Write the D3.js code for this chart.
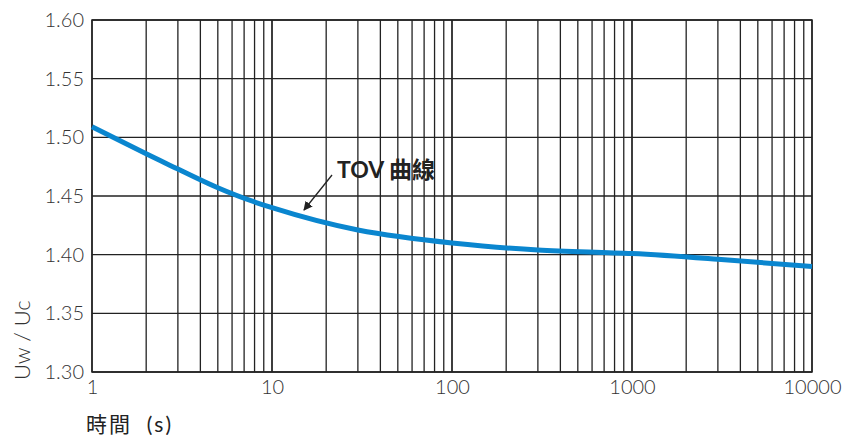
<!DOCTYPE html>
<html>
<head>
<meta charset="utf-8">
<script src="https://cdn.jsdelivr.net/npm/d3@7"></script>
<style>
  body { margin: 0; background: #fff; }
  text { font-family: Lato, "Noto Sans CJK TC", sans-serif; }
</style>
</head>
<body>
<div id="chart"></div>
<script>
// TOV curve
const times = [1, 2, 3, 5, 10, 30, 100, 300, 1000, 3000, 10000];
const ratios = [1.509, 1.486, 1.473, 1.457, 1.440, 1.421, 1.410, 1.404, 1.401, 1.396, 1.390];
const yTicks = [1.30, 1.35, 1.40, 1.45, 1.50, 1.55, 1.60];
const xTicks = [1, 10, 100, 1000, 10000];

const width = 842, height = 435;
const margin = { top: 20, right: 30, bottom: 63, left: 92 };
const w = width - margin.left - margin.right;
const h = height - margin.top - margin.bottom;

const svg = d3.select('#chart')
    .append('svg')
    .attr('width', width)
    .attr('height', height)
    .append('g')
    .attr('transform', `translate(${margin.left},${margin.top})`);

const xScale = d3.scaleLog().domain([1, 10000]).range([0, w]);
const yScale = d3.scaleLinear().domain([1.30, 1.60]).range([h, 0]);

// vertical grid: every 1..9 of each decade
const minor = [];
for (let d = 1; d < 10000; d *= 10) {
    for (let k = 1; k <= 10; k++) minor.push(d * k);
}
svg.selectAll('.vgrid')
    .data(minor)
    .enter()
    .append('line')
    .attr('class', 'vgrid')
    .attr('x1', d => xScale(d)).attr('x2', d => xScale(d))
    .attr('y1', 0).attr('y2', h)
    .attr('stroke', '#222')
    .attr('stroke-width', 1.3);

svg.selectAll('.hgrid')
    .data(yTicks)
    .enter()
    .append('line')
    .attr('class', 'hgrid')
    .attr('x1', 0).attr('x2', w)
    .attr('y1', d => yScale(d)).attr('y2', d => yScale(d))
    .attr('stroke', '#222')
    .attr('stroke-width', 1.3);

svg.append('rect')
    .attr('width', w).attr('height', h)
    .attr('fill', 'none')
    .attr('stroke', '#222')
    .attr('stroke-width', 1.5);

// axes (labels only)
const yAxis = svg.append('g')
    .call(d3.axisLeft(yScale).tickValues(yTicks).tickFormat(d3.format('.2f')).tickSize(0).tickPadding(8));
const xAxis = svg.append('g')
    .attr('transform', `translate(0,${h})`)
    .call(d3.axisBottom(xScale).tickValues(xTicks).tickFormat(d3.format('d')).tickSize(0).tickPadding(8));
[xAxis, yAxis].forEach(a => {
    a.select('.domain').remove();
    a.selectAll('text')
        .style('font-family', 'Lato, sans-serif')
        .style('font-weight', '300')
        .style('font-size', '20px')
        .attr('fill', '#333');
});

// curve
const line = d3.line()
    .x((d, i) => xScale(times[i]))
    .y(d => yScale(d))
    .curve(d3.curveNatural);

svg.append('path')
    .datum(ratios)
    .attr('d', line)
    .attr('fill', 'none')
    .attr('stroke', '#0a86cf')
    .attr('stroke-width', 5);

// annotation
svg.append('defs').append('marker')
    .attr('id', 'arrow')
    .attr('viewBox', '0 0 10 10')
    .attr('refX', 9).attr('refY', 5)
    .attr('markerWidth', 7).attr('markerHeight', 7)
    .attr('orient', 'auto')
    .append('path')
    .attr('d', 'M0,0 L10,5 L0,10 z')
    .attr('fill', '#222');

svg.append('line')
    .attr('x1', 332 - margin.left).attr('y1', 175 - margin.top)
    .attr('x2', 304 - margin.left).attr('y2', 210 - margin.top)
    .attr('stroke', '#222')
    .attr('stroke-width', 1.3)
    .attr('marker-end', 'url(#arrow)');

svg.append('text')
    .attr('x', 337 - margin.left)
    .attr('y', 178 - margin.top)
    .style('font-family', 'Lato, "Noto Sans CJK TC", sans-serif')
    .style('font-weight', '700')
    .style('font-size', '23px')
    .attr('fill', '#222')
    .text('TOV 曲線');

// axis titles
svg.append('text')
    .attr('transform', 'rotate(-90)')
    .attr('x', -(380 - margin.top))
    .attr('y', 30 - margin.left)
    .attr('text-anchor', 'start')
    .style('font-weight', '300')
    .style('font-size', '22px')
    .attr('fill', '#333')
    .text('Uw / Uc');

svg.append('text')
    .attr('x', 86 - margin.left)
    .attr('y', 432 - margin.top)
    .style('font-family', 'Lato, "Noto Sans CJK TC", sans-serif')
    .style('font-weight', '400')
    .style('font-size', '21px')
    .style('letter-spacing', '2px')
    .style('white-space', 'pre')
    .attr('fill', '#222')
    .text('時間  (s)');
</script>
</body>
</html>
